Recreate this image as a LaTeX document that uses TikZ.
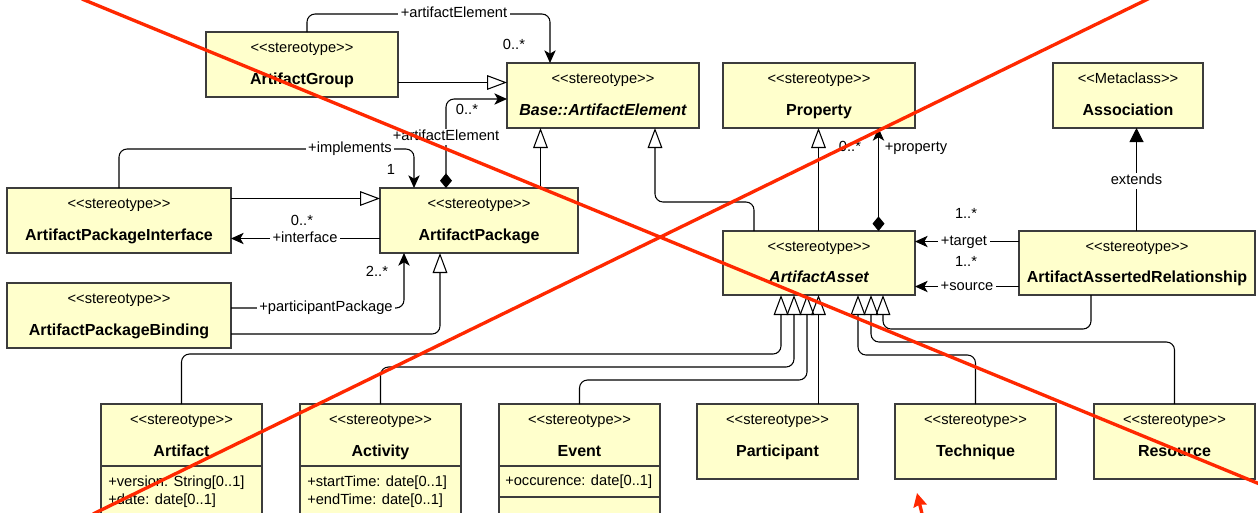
\documentclass[tikz,border=0pt]{standalone}
\usepackage{fontspec}
\setmainfont{Liberation Sans}[Ligatures=TeXOff]
\usetikzlibrary{arrows.meta,calc}
\definecolor{boxfill}{RGB}{255,255,204}
\definecolor{boxline}{RGB}{60,60,60}
\definecolor{redline}{RGB}{255,40,0}
\newcommand{\stt}{<\kern0pt<stereotype>\kern0pt>}
\newcommand{\mcl}{<\kern0pt<Metaclass>\kern0pt>}
\begin{document}
\begin{tikzpicture}[x=0.75pt,y=-0.75pt,
  box/.style={draw=boxline, fill=boxfill, line width=1pt, inner sep=0pt, outer sep=0pt, anchor=north west},
  ster/.style={font=\fontsize{11}{13}\selectfont, inner sep=0pt, text height=8pt, text depth=2.3pt},
  cname/.style={font=\bfseries\fontsize{12}{14}\selectfont, inner sep=0pt, text height=8.6pt, text depth=0pt},
  cnamei/.style={font=\bfseries\itshape\fontsize{12}{14}\selectfont, inner sep=0pt, text height=8.6pt, text depth=0pt},
  attr/.style={font=\fontsize{11}{13}\selectfont, inner sep=0pt, anchor=west, text height=8pt, text depth=2.3pt},
  lbl/.style={font=\fontsize{11}{13}\selectfont, fill=white, inner xsep=2pt, inner ysep=0.5pt, text height=8pt, text depth=2.3pt},
  mult/.style={font=\fontsize{11}{13}\selectfont, inner sep=0pt, text height=8pt, text depth=2.3pt},
  conn/.style={line width=0.8pt, rounded corners=6pt},
  nav/.style={conn, -{Stealth[length=9.5pt,width=8.5pt,inset=2.5pt]}},
  gen/.style={conn, -{Triangle[open,length=15pt,width=11pt]}},
  comp/.style={conn, {Diamond[length=11pt,width=9pt]}-{Stealth[length=9.5pt,width=8.5pt,inset=2.5pt]}},
  ext/.style={conn, -{Triangle[length=10.5pt,width=10.5pt]}},
  redx/.style={draw=redline, line width=2.5pt},
  redarrow/.style={draw=redline, line width=2.5pt, -{Stealth[length=10pt,width=10pt,inset=1pt]}}
]
\useasboundingbox (0,0) rectangle (1258,512);
\fill[white] (0,0) rectangle (1258,512);
\clip (0,0) rectangle (1258,512);

% ---- boxes
\node[box,minimum width=144pt,minimum height=48.75pt] (ag) at (206,32) {};
\node[box,minimum width=144pt,minimum height=48.75pt] (be) at (507,63) {};
\node[box,minimum width=144pt,minimum height=48.75pt] (prop) at (723,63) {};
\node[box,minimum width=112.5pt,minimum height=48.75pt] (assoc) at (1053,63) {};
\node[box,minimum width=168pt,minimum height=48.75pt] (api) at (7,188) {};
\node[box,minimum width=148.5pt,minimum height=48.75pt] (ap) at (380,188) {};
\node[box,minimum width=168pt,minimum height=48.75pt] (apb) at (7,283) {};
\node[box,minimum width=144pt,minimum height=48pt] (aa) at (723,231) {};
\node[box,minimum width=177pt,minimum height=48pt] (aar) at (1019,231) {};

\node[box,minimum width=120.75pt,minimum height=46.5pt] (art) at (101,404) {};
\node[box,minimum width=120.75pt,minimum height=45pt] (artA) at (art.south west) {};
\node[box,minimum width=120.75pt,minimum height=46.5pt] (act) at (300,404) {};
\node[box,minimum width=120.75pt,minimum height=45pt] (actA) at (act.south west) {};
\node[box,minimum width=120.75pt,minimum height=46.5pt] (evt) at (499,404) {};
\node[box,minimum width=120.75pt,minimum height=23.25pt] (evtA) at (evt.south west) {};
\node[box,minimum width=120.75pt,minimum height=32.25pt] (evtO) at (evtA.south west) {};
\node[box,minimum width=120.75pt,minimum height=56.25pt] (par) at (697,404) {};
\node[box,minimum width=120.75pt,minimum height=56.25pt] (tec) at (895,404) {};
\node[box,minimum width=120.75pt,minimum height=56.25pt] (res) at (1094,404) {};

% ---- box texts
\node[ster] (agS) at (302,49) {\stt};
\node[cname] (agN) at (302,79) {ArtifactGroup};
\node[ster] (beS) at (603,80) {\stt};
\node[cnamei] (beN) at (603,110) {Base::ArtifactElement};
\node[ster] (propS) at (819,80) {\stt};
\node[cname] (propN) at (819,110) {Property};
\node[ster] (assocS) at (1128,80) {\mcl};
\node[cname] (assocN) at (1128,110) {Association};
\node[ster] (apiS) at (119,205) {\stt};
\node[cname] (apiN) at (119,235) {ArtifactPackageInterface};
\node[ster] (apS) at (479,205) {\stt};
\node[cname] (apN) at (479,235) {ArtifactPackage};
\node[ster] (apbS) at (119,300) {\stt};
\node[cname] (apbN) at (119,330) {ArtifactPackageBinding};
\node[ster] (aaS) at (819,247.5) {\stt};
\node[cnamei] (aaN) at (819,277) {ArtifactAsset};
\node[ster] (aarS) at (1137,247.5) {\stt};
\node[cname] (aarN) at (1137,277) {ArtifactAssertedRelationship};

\node[ster] (artS) at (181.5,421) {\stt};
\node[cname] (artN) at (181.5,451) {Artifact};
\node[attr] (artA1) at (108,483) {+version: String[0..1]};
\node[attr] (artA2) at (108,501) {+date: date[0..1]};
\node[ster] (actS) at (380.5,421) {\stt};
\node[cname] (actN) at (380.5,451) {Activity};
\node[attr] (actA1) at (307,483) {+startTime: date[0..1]};
\node[attr] (actA2) at (307,501) {+endTime: date[0..1]};
\node[ster] (evtS) at (579.5,421) {\stt};
\node[cname] (evtN) at (579.5,451) {Event};
\node[attr] (evtA1) at (505,482) {+occurence: date[0..1]};
\node[ster] (parS) at (777.5,421) {\stt};
\node[cname] (parN) at (777.5,451) {Participant};
\node[ster] (tecS) at (975.5,421) {\stt};
\node[cname] (tecN) at (975.5,451) {Technique};
\node[ster] (resS) at (1174.5,421) {\stt};
\node[cname] (resN) at (1174.5,451) {Resource};

% ---- connectors
\draw[nav] ($(ag.north west)+(101,0)$) -- ++(0,-18) -| ($(be.north west)+(43,0)$);
\draw[gen] ($(ag.north east)+(0,50.5)$) -- ($(be.north west)+(0,19.5)$);
\draw[comp] ($(ap.north west)+(66,0)$) |- ($(be.north west)+(0,36)$);
\draw[gen] ($(ap.north west)+(160.5,0)$) -- ($(be.south west)+(33.5,0)$);
\draw[gen] ($(aa.north west)+(31,0)$) |- ($(be.south west)+(148,74)$) -- ($(be.south west)+(148,0)$);
\draw[nav] (api.north) -- ++(0,-39) -| ($(ap.north west)+(34,0)$);
\draw[gen] ($(api.north east)+(0,10.5)$) -- ($(ap.north west)+(0,10.5)$);
\draw[nav] ($(ap.north west)+(0,50.5)$) -- ($(api.north east)+(0,50.5)$);
\draw[nav] ($(apb.north east)+(0,25)$) -| ($(ap.south west)+(24,0)$);
\draw[gen] ($(apb.north east)+(0,51)$) -| ($(ap.south west)+(60,0)$);
\draw[gen] ($(aa.north west)+(95.5,0)$) -- ($(prop.south west)+(95.5,0)$);
\draw[comp] ($(aa.north west)+(155.5,0)$) -- ($(prop.south west)+(155.5,0)$);
\draw[ext] ($(aar.north west)+(117.5,0)$) -- ($(assoc.south west)+(83.5,0)$);
\draw[nav] ($(aar.north west)+(0,10.5)$) -- ($(aa.north east)+(0,10.5)$);
\draw[nav] ($(aar.north west)+(0,55.5)$) -- ($(aa.north east)+(0,55.5)$);

\draw[gen] (art.north) |- ($(aa.south west)+(58,59)$) -- ($(aa.south west)+(58,0)$);
\draw[gen] (act.north) |- ($(aa.south west)+(71,72)$) -- ($(aa.south west)+(71,0)$);
\draw[gen] (evt.north) |- ($(aa.south west)+(84,85)$) -- ($(aa.south west)+(84,0)$);
\draw[gen] ($(par.north west)+(121.5,0)$) -- ($(aa.south west)+(95.5,0)$);
\draw[gen] (tec.north) |- ($(aa.south west)+(135,60)$) -- ($(aa.south west)+(135,0)$);
\draw[gen] (res.north) |- ($(aa.south west)+(148,47)$) -- ($(aa.south west)+(148,0)$);
\draw[gen] ($(aar.south west)+(72,0)$) |- ($(aa.south west)+(160,34)$) -- ($(aa.south west)+(160,0)$);

% ---- connector labels
\node[lbl] (lae1) at (454,14) {+artifactElement};
\node[mult] (mae1) at (514,46) {0..*};
\node[lbl] (lae2) at (446,137) {+artifactElement};
\node[mult] (mae2) at (467,111) {0..*};
\node[lbl] (limpl) at (350,149) {+implements};
\node[mult] (mimpl) at (391,171) {1};
\node[lbl] (lintf) at (305,238.5) {+interface};
\node[mult] (mintf) at (302,222) {0..*};
\node[lbl] (lpp) at (326,308) {+participantPackage};
\node[mult] (mpp) at (377,273) {2..*};
\node[mult] (mprop) at (850,148) {0..*};
\node[mult] (lprop) at (916,148) {+property};
\node[lbl] (lext) at (1136.5,181) {extends};
\node[lbl] (ltgt) at (964,241.5) {+target};
\node[mult] (mtgt) at (966,215) {1..*};
\node[lbl] (lsrc) at (967,286.5) {+source};
\node[mult] (msrc) at (966,263) {1..*};

% ---- red overlay
\coordinate (r1a) at (82,-1);
\coordinate (r1b) at (1262,485);
\coordinate (r2a) at (1150,-2);
\coordinate (r2b) at (93,514);
\draw[redx] (r1a) -- (r1b);
\draw[redx] (r2a) -- (r2b);
\coordinate (raT) at (924,522);
\coordinate (raH) at (917,493);
\draw[redarrow] (raT) -- (raH);
\end{tikzpicture}
\end{document}
